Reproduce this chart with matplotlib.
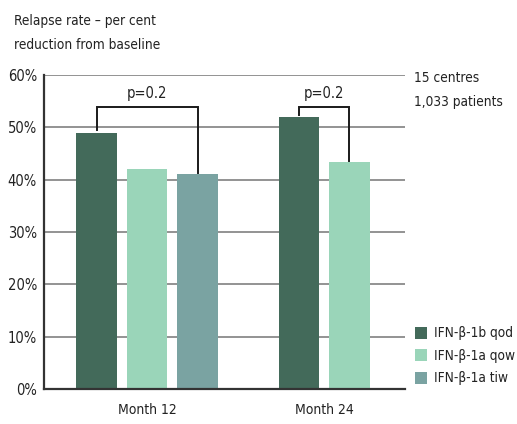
import matplotlib
matplotlib.use("Agg")
import matplotlib.pyplot as plt
from matplotlib.patches import Patch

# === DATA ===
groups = ["Month 12", "Month 24"]
series = ["IFN-β-1b qod", "IFN-β-1a qow", "IFN-β-1a tiw"]
month12 = [49, 42, 41]
month24 = [52, 43.3]
colors = ["#436a5a", "#9ad5b9", "#7aa3a2"]
yticks = [0, 10, 20, 30, 40, 50, 60]
p_label = "p=0.2"

plt.rcParams['font.family'] = ['DejaVu Sans']
plt.rcParams['font.stretch'] = 'condensed'
txt = "#222222"

fig = plt.figure(figsize=(5.17, 4.24), dpi=100)
ax = fig.add_axes([0.0851, 0.0825, 0.6983, 0.7405])

# bar positions (pitch units)
x12 = [0, 1, 2]
x24 = [4, 5]
ax.bar(x12, month12, width=0.8, color=colors[:3], zorder=3)
ax.bar(x24, month24, width=0.8, color=colors[:2], zorder=3)

ax.set_xlim(-1.04, 6.1)
ax.set_ylim(0, 60)
ax.set_yticks(yticks)
ax.set_yticklabels([f"{v}%" for v in yticks], fontsize=10.5, color=txt)
ax.tick_params(axis='y', length=0, pad=5)
ax.set_xticks([1, 4.5])
ax.set_xticklabels(groups, fontsize=10, color=txt)
ax.tick_params(axis='x', length=0, pad=10)

for v in yticks[1:]:
    ax.axhline(v, color="#8a8a8a", lw=1.3, zorder=1)
for s in ["top", "right"]:
    ax.spines[s].set_visible(False)
for s in ["left", "bottom"]:
    ax.spines[s].set_color("#333333")
    ax.spines[s].set_linewidth(1.6)
    ax.spines[s].set_zorder(4)

# significance brackets
def bracket(x1, x2, y1, y2, top):
    ax.plot([x1, x1, x2, x2], [y1, top, top, y2], color="#1a1a1a",
            lw=1.4, zorder=5, solid_joinstyle='miter')
    ax.text((x1 + x2) / 2, top + 1.3, p_label, ha='center', va='bottom',
            fontsize=10.5, color=txt)

bracket(x12[0], x12[2], month12[0] + 0.5, month12[2] + 0.3, 53.8)
bracket(x24[0], x24[1], month24[0] + 0.4, month24[1] + 0.3, 53.8)

# title and notes
fig.text(0.027, 0.968, "Relapse rate – per cent\nreduction from baseline",
         ha='left', va='top', fontsize=9.8, color=txt, linespacing=1.95)
fig.text(0.8, 0.833, "15 centres\n1,033 patients", ha='left', va='top',
         fontsize=9.8, color=txt, linespacing=1.95)

handles = [Patch(facecolor=c, edgecolor='none') for c in colors]
fig.legend(handles, series, loc='upper left', bbox_to_anchor=(0.802, 0.23),
           frameon=False, fontsize=9.8, handlelength=0.9, handleheight=1.0,
           handletextpad=0.55, labelspacing=0.62, borderpad=0, borderaxespad=0,
           labelcolor=txt)

fig.savefig("out.png", dpi=100)
